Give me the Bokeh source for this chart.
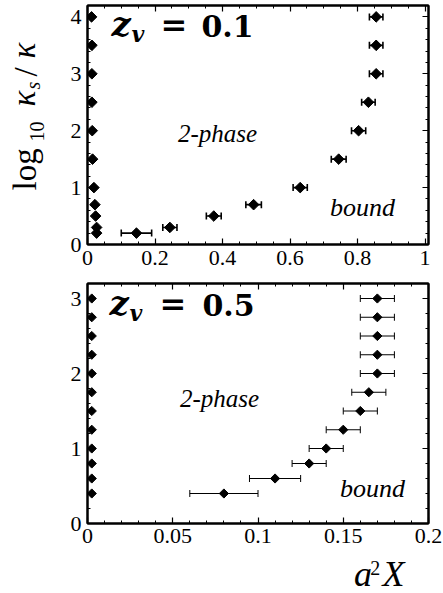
import numpy as np
from bokeh.plotting import figure
from bokeh.models import (Range1d, FixedTicker, LinearAxis, Label, Whisker, TeeHead,
                          ColumnDataSource)
from bokeh.layouts import column, row
from bokeh.core.properties import value
from bokeh.embed import file_html
from bokeh.resources import INLINE

# ---------------- data ----------------
# top panel, z_v = 0.1
top_left_y = [4.0, 3.5, 3.0, 2.5, 2.0, 1.5, 1.0, 0.7, 0.5, 0.3, 0.2]
top_left_x = [0.012, 0.013, 0.013, 0.013, 0.014, 0.015, 0.019, 0.022, 0.024, 0.027, 0.027]
top_right_y = [0.2, 0.3, 0.5, 0.7, 1.0, 1.5, 2.0, 2.5, 3.0, 3.5, 4.0]
top_right_x = [0.145, 0.244, 0.374, 0.492, 0.630, 0.744, 0.803, 0.832, 0.855, 0.855, 0.855]
top_right_err = [0.045, 0.021, 0.022, 0.023, 0.021, 0.022, 0.021, 0.02, 0.02, 0.02, 0.02]

# bottom panel, z_v = 0.5
bot_left_y = [3.0, 2.75, 2.5, 2.25, 2.0, 1.75, 1.5, 1.25, 1.0, 0.8, 0.6, 0.4]
bot_left_x = [0.0025] * 12
bot_right_y = [0.4, 0.6, 0.8, 1.0, 1.25, 1.5, 1.75, 2.0, 2.25, 2.5, 2.75, 3.0]
bot_right_x = [0.08, 0.11, 0.13, 0.14, 0.15, 0.16, 0.165, 0.17, 0.17, 0.17, 0.17, 0.17]
bot_right_err = [0.02, 0.015, 0.01, 0.01, 0.01, 0.01, 0.01, 0.01, 0.01, 0.01, 0.01, 0.01]

top_xticks = [0, 0.2, 0.4, 0.6, 0.8, 1.0]
top_xlabels = ["0", "0.2", "0.4", "0.6", "0.8", "1"]
top_yticks = [0, 1, 2, 3, 4]
top_ylabels = ["0", "1", "2", "3", "4"]
bot_xticks = [0, 0.05, 0.1, 0.15, 0.2]
bot_xlabels = ["0", "0.05", "0.1", "0.15", "0.2"]
bot_yticks = [0, 1, 2, 3]
bot_ylabels = ["0", "1", "2", "3"]

SERIF = "Liberation Serif"
DJS = "DejaVu Serif"
LW = 50  # width of the left strip holding the y-axis title
MID = 0.33  # baseline -> middle offset, in em


def style_axes(p, xt, xl, xminor, yt, yl, yminor, xstandoff):
    xtick = FixedTicker(ticks=xt, minor_ticks=list(xminor))
    ytick = FixedTicker(ticks=yt, minor_ticks=list(yminor))
    bottom = p.below[0]
    left = p.left[0]
    bottom.ticker = xtick
    bottom.major_label_overrides = {t: l for t, l in zip(xt, xl)}
    left.ticker = ytick
    left.major_label_overrides = {t: l for t, l in zip(yt, yl)}
    top = LinearAxis(ticker=xtick, major_label_overrides={t: "" for t in xt})
    right = LinearAxis(ticker=ytick, major_label_overrides={t: "" for t in yt})
    p.add_layout(top, "above")
    p.add_layout(right, "right")
    for ax in [bottom, left, top, right]:
        ax.axis_line_color = "black"
        ax.axis_line_width = 2
        ax.major_tick_in = 6
        ax.major_tick_out = 0
        ax.minor_tick_in = 3
        ax.minor_tick_out = 0
        ax.major_tick_line_color = "black"
        ax.minor_tick_line_color = "black"
        ax.major_tick_line_width = 1.2
        ax.minor_tick_line_width = 1
        ax.major_label_text_font = SERIF
        ax.major_label_text_font_size = "22px"
        ax.major_label_text_color = "black"
    bottom.major_label_standoff = xstandoff
    left.major_label_standoff = 6
    for ax in [top, right]:
        ax.major_label_text_font_size = "1px"
        ax.major_label_standoff = 0
    p.outline_line_color = "black"
    p.outline_line_width = 2
    p.grid.visible = False


def put(p, txt, xp, yb, fl, fb, size, style="normal", font=SERIF, align="left"):
    """Place a label at page position xp with its baseline at page row yb."""
    ym = yb - MID * size
    p.add_layout(Label(x=xp - fl, y=fb - ym, x_units="screen", y_units="screen",
                       text=txt, text_font=font, text_font_size=f"{size}px",
                       text_font_style=style, text_align=align,
                       text_baseline="middle", text_color="black"))


def points(p, lx, ly, rx, ry, rerr, lw, msize):
    src = ColumnDataSource(dict(x=rx, y=ry,
                                lo=[a - e for a, e in zip(rx, rerr)],
                                hi=[a + e for a, e in zip(rx, rerr)]))
    p.add_layout(Whisker(base="y", lower="lo", upper="hi", dimension="width", source=src,
                         line_color="black", line_width=lw,
                         upper_head=TeeHead(size=7, line_color="black", line_width=lw),
                         lower_head=TeeHead(size=7, line_color="black", line_width=lw)))
    p.scatter(rx, ry, marker="square", angle=np.pi / 4, size=msize, color="black")
    p.scatter(lx, ly, marker="square", angle=np.pi / 4, size=msize, color="black")


def strip(w, h, x0, y0):
    s = figure(width=w, height=h, output_backend="svg", toolbar_location=None,
               x_range=Range1d(x0, x0 + w), y_range=Range1d(-(y0 + h), -y0),
               x_axis_type=None, y_axis_type=None, min_border=0,
               outline_line_color=None, title=None)
    s.grid.visible = False
    return s


def stext(s, txt, xp, yb, size, style="normal", font=SERIF, rotated=False):
    """Text with baseline at page row yb (or page column xp when rotated)."""
    if rotated:
        x, y, ang = xp - MID * size, -yb, np.pi / 2
    else:
        x, y, ang = xp, -(yb - MID * size), 0
    s.text(x=[x], y=[y], text=[txt], angle=ang, text_font=value(font),
           text_font_size=value(f"{size}px"), text_font_style=value(style),
           text_align=value("left"), text_baseline=value("middle"),
           text_color="black")


# ---------------- top panel ----------------
p1 = figure(width=443 - LW, height=280, output_backend="svg", toolbar_location=None,
            x_range=Range1d(0, 1.01), y_range=Range1d(0, 4.2),
            min_border_left=87 - LW, min_border_right=15, min_border_top=5,
            min_border_bottom=36)
style_axes(p1, top_xticks, top_xlabels, np.arange(0, 1.01, 0.05),
           top_yticks, top_ylabels, np.arange(0, 4.2, 0.2), 6)
points(p1, top_left_x, top_left_y, top_right_x, top_right_y, top_right_err, 1.6, 7.5)
FL1, FB1 = 87, 244
put(p1, "z", 111, 35, FL1, FB1, 34, "bold italic", DJS)
put(p1, "v", 131, 41, FL1, FB1, 22, "bold italic", DJS)
put(p1, "=", 160, 35, FL1, FB1, 32, "bold", DJS)
put(p1, "0.1", 201, 35, FL1, FB1, 30, "bold", DJS)
put(p1, "2-phase", 217, 141, FL1, FB1, 25, "italic", align="center")
put(p1, "bound", 362, 216, FL1, FB1, 26, "italic", align="center")

# ---------------- bottom panel ----------------
OY = 280
P2H = 273
p2 = figure(width=443 - LW, height=P2H, output_backend="svg", toolbar_location=None,
            x_range=Range1d(0, 0.2), y_range=Range1d(0, 3.2),
            min_border_left=85 - LW, min_border_right=15, min_border_top=3,
            min_border_bottom=P2H - 243)
style_axes(p2, bot_xticks, bot_xlabels, np.arange(0, 0.2, 0.01),
           bot_yticks, bot_ylabels, np.arange(0, 3.2, 0.2), 5)
points(p2, bot_left_x, bot_left_y, bot_right_x, bot_right_y, bot_right_err, 1.0, 6.5)
FL2, FB2 = 85, 243
put(p2, "z", 107, 314 - OY, FL2, FB2, 34, "bold italic", DJS)
put(p2, "v", 127, 320 - OY, FL2, FB2, 22, "bold italic", DJS)
put(p2, "=", 157, 314 - OY, FL2, FB2, 32, "bold", DJS)
put(p2, "0.5", 200, 314 - OY, FL2, FB2, 30, "bold", DJS)
put(p2, "2-phase", 217, 406 - OY, FL2, FB2, 25, "italic", align="center")
put(p2, "bound", 370, 497 - OY, FL2, FB2, 26, "italic", align="center")

# ---------------- x-axis title strip: a^2 X ----------------
XY0 = OY + P2H
xs = strip(443 - LW, 593 - XY0, LW, XY0)
stext(xs, "a", 357, 585, 36, "italic")
stext(xs, "2", 376, 574, 20, "normal")
stext(xs, "X", 390, 585, 36, "italic")

# ---------------- y-axis title strip: log10 kappa_s / kappa ----------------
ys = strip(LW, 593, 0, 0)
stext(ys, "log", 35, 190, 33, "normal", rotated=True)
stext(ys, "10", 43, 141, 20, "normal", rotated=True)
stext(ys, "κ", 34, 106, 33, "italic", rotated=True)
stext(ys, "s", 39, 89, 20, "italic", rotated=True)
stext(ys, "/", 36, 76, 33, "normal", rotated=True)
stext(ys, "κ", 34, 58, 33, "italic", rotated=True)

layout = row(ys, column(p1, p2, xs, spacing=0), spacing=0)
open("out.html", "w").write(file_html(layout, INLINE))
